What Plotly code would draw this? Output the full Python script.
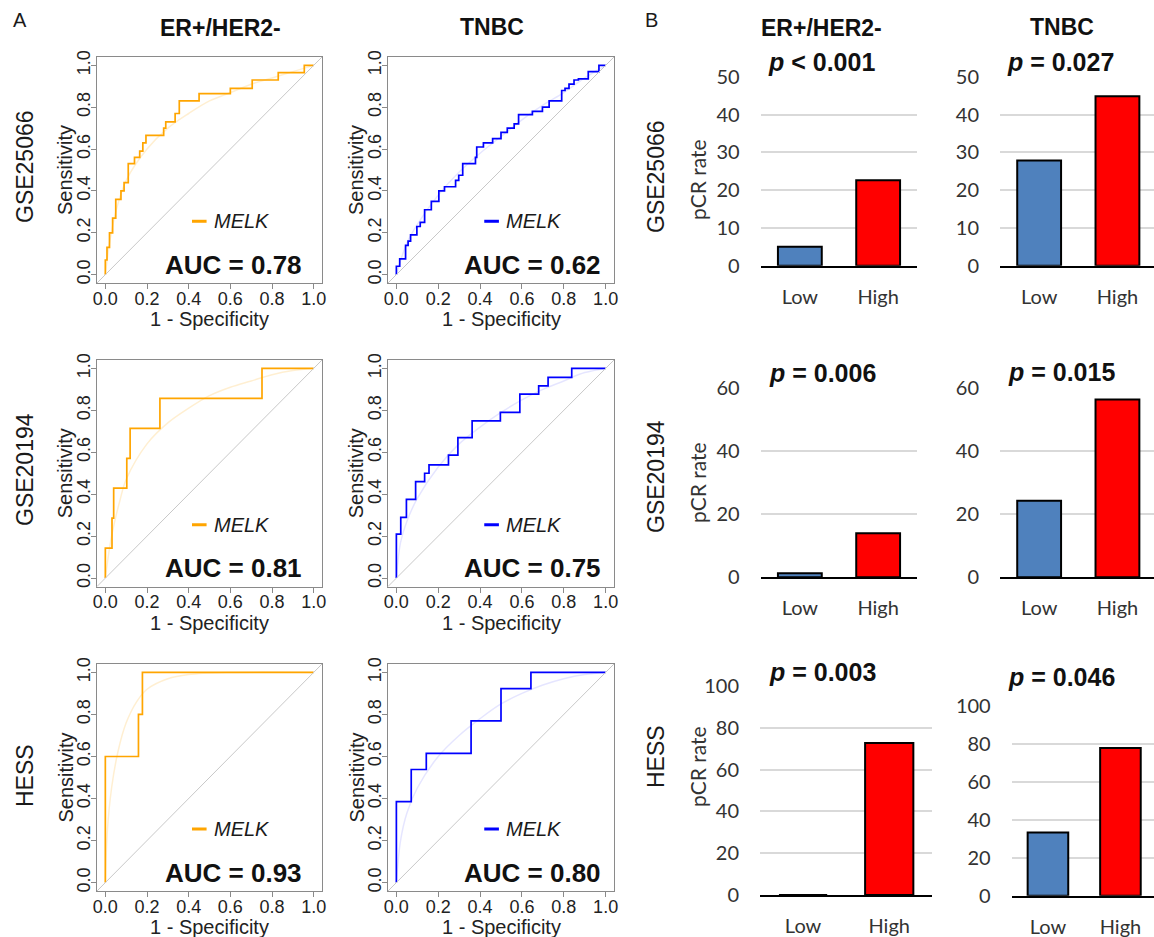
import plotly.graph_objects as go

W, H = 1154, 937

# ---------------- DATA ----------------
# Panel A : ROC curves (1 - specificity, sensitivity) – step vertices (hv)
fpr_gse25066_er = [0, 0, 0.008, 0.02, 0.035, 0.05, 0.075, 0.09, 0.11, 0.14, 0.165, 0.18, 0.195,
                   0.28, 0.29, 0.335, 0.355, 0.45, 0.6, 0.705, 0.83, 0.955, 1.0]
tpr_gse25066_er = [0, 0.07, 0.13, 0.2, 0.27, 0.36, 0.40, 0.44, 0.53, 0.56, 0.59, 0.63, 0.665,
                   0.70, 0.73, 0.77, 0.83, 0.865, 0.89, 0.93, 0.965, 1.0, 1.0]
fpr_gse25066_tnbc = [0, 0, 0.016, 0.044, 0.056, 0.068, 0.098, 0.114, 0.135, 0.167, 0.203, 0.23,
                     0.283, 0.298, 0.317, 0.378, 0.384, 0.416, 0.46, 0.5, 0.53, 0.563, 0.584,
                     0.65, 0.698, 0.73, 0.79, 0.806, 0.825, 0.849, 0.87, 0.917, 0.968, 1.0]
tpr_gse25066_tnbc = [0, 0.04, 0.075, 0.14, 0.16, 0.19, 0.23, 0.25, 0.31, 0.35, 0.40, 0.42,
                     0.45, 0.475, 0.53, 0.56, 0.61, 0.63, 0.65, 0.68, 0.70, 0.72, 0.765,
                     0.78, 0.80, 0.83, 0.88, 0.89, 0.91, 0.93, 0.935, 0.97, 1.0, 1.0]
fpr_gse20194_er = [0, 0, 0.032, 0.04, 0.103, 0.119, 0.262, 0.752, 1.0]
tpr_gse20194_er = [0, 0.143, 0.286, 0.429, 0.571, 0.714, 0.857, 1.0, 1.0]
fpr_gse20194_tnbc = [0, 0, 0.021, 0.048, 0.092, 0.135, 0.156, 0.249, 0.294, 0.362, 0.497,
                     0.59, 0.68, 0.725, 0.838, 1.0]
tpr_gse20194_tnbc = [0, 0.21, 0.29, 0.375, 0.46, 0.50, 0.54, 0.586, 0.67, 0.75, 0.79,
                     0.877, 0.917, 0.957, 1.0, 1.0]
fpr_hess_er = [0, 0, 0.159, 0.178, 1.0]
tpr_hess_er = [0, 0.6, 0.8, 1.0, 1.0]
fpr_hess_tnbc = [0, 0, 0.071, 0.143, 0.357, 0.5, 0.643, 1.0]
tpr_hess_tnbc = [0, 0.385, 0.538, 0.615, 0.769, 0.923, 1.0, 1.0]

# smoothed ROC curves (faint lines)
smx_gse25066_er = [0, 0.02, 0.05, 0.1, 0.2, 0.3, 0.4, 0.5, 0.6, 0.7, 0.8, 0.9, 1.0]
smy_gse25066_er = [0, 0.15, 0.30, 0.45, 0.60, 0.70, 0.77, 0.83, 0.87, 0.91, 0.94, 0.97, 1.0]
smx_gse25066_tnbc = [0, 0.05, 0.1, 0.2, 0.3, 0.4, 0.5, 0.6, 0.7, 0.8, 0.9, 1.0]
smy_gse25066_tnbc = [0, 0.15, 0.24, 0.38, 0.49, 0.58, 0.66, 0.74, 0.81, 0.87, 0.94, 1.0]
smx_gse20194_er = [0, 0.03, 0.07, 0.1, 0.2, 0.3, 0.4, 0.5, 0.6, 0.7, 0.8, 0.9, 1.0]
smy_gse20194_er = [0, 0.20, 0.37, 0.47, 0.64, 0.74, 0.81, 0.87, 0.91, 0.94, 0.97, 0.99, 1.0]
smx_gse20194_tnbc = [0, 0.02, 0.05, 0.1, 0.2, 0.3, 0.4, 0.5, 0.6, 0.7, 0.8, 0.9, 1.0]
smy_gse20194_tnbc = [0, 0.17, 0.27, 0.38, 0.53, 0.64, 0.72, 0.79, 0.85, 0.90, 0.94, 0.98, 1.0]
smx_hess_er = [0, 0.01, 0.03, 0.06, 0.1, 0.15, 0.2, 0.3, 0.4, 0.6, 1.0]
smy_hess_er = [0, 0.25, 0.45, 0.62, 0.76, 0.86, 0.92, 0.97, 0.99, 1.0, 1.0]
smx_hess_tnbc = [0, 0.02, 0.05, 0.1, 0.2, 0.3, 0.4, 0.5, 0.6, 0.7, 0.8, 0.9, 1.0]
smy_hess_tnbc = [0, 0.20, 0.33, 0.45, 0.60, 0.70, 0.78, 0.85, 0.90, 0.94, 0.97, 0.99, 1.0]

auc_labels = ["AUC = 0.78", "AUC = 0.62", "AUC = 0.81", "AUC = 0.75", "AUC = 0.93", "AUC = 0.80"]
roc_ticks = [0, 0.2, 0.4, 0.6, 0.8, 1.0]
roc_tick_text = ["0.0", "0.2", "0.4", "0.6", "0.8", "1.0"]

# Panel B : pCR rate (%)
groups = ["Low", "High"]
pcr_gse25066_er = [5.0, 22.6]
pcr_gse25066_tnbc = [27.8, 44.8]
pcr_gse20194_er = [1.3, 14.0]
pcr_gse20194_tnbc = [24.2, 56.3]
pcr_hess_er = [0.0, 72.7]
pcr_hess_tnbc = [33.3, 77.8]
p_labels = ["<i>p</i> &lt; 0.001", "<i>p</i> = 0.027", "<i>p</i> = 0.006",
            "<i>p</i> = 0.015", "<i>p</i> = 0.003", "<i>p</i> = 0.046"]
bar_yranges = [[0, 50], [0, 60], [0, 100]]
bar_dticks = [10, 20, 20]

col_titles = ["ER+/HER2-", "TNBC"]
row_labels = ["GSE25066", "GSE20194", "HESS"]

# ---------------- STYLE / LAYOUT ----------------
ARIAL = "Liberation Sans, Arial, sans-serif"
CALIBRI = "Lato, Open Sans, sans-serif"
BLUE_BAR = "#4F81BD"
RED_BAR = "#FF0000"
ORANGE = "#FFA500"
BLUE = "#0000FF"
ROC_FAINT = ["rgba(255,165,0,0.18)", "rgba(0,0,255,0.10)"]


def fx(p):
    return p / W


def fy(p):
    return 1 - p / H


def note(text, x, y, size, family=ARIAL, color="#1a1a1a", angle=0, xref="paper", yref="paper",
         xanchor="center", yanchor="middle"):
    return dict(text=text, x=x, y=y, xref=xref, yref=yref, showarrow=False, textangle=angle,
                xanchor=xanchor, yanchor=yanchor,
                font=dict(size=size, family=family, color=color))


# ROC box pixel positions
roc_x = [(97, 322), (388, 614)]
roc_y = [(57, 283), (360, 586.5), (664, 891)]
# bar plot pixel positions (left, right) per row/col, (top(max), bottom(0)) per row/col
bar_x = [[(760.7, 917.3), (1000, 1154)],
         [(760.7, 917.3), (1000, 1154)],
         [(760, 932.3), (1011.7, 1154)]]
bar_y = [[(76.7, 265.7), (76.7, 265.7)],
         [(388.3, 577.3), (387.7, 577.3)],
         [(686, 895), (706, 895.7)]]
bar_xrange = [[[-0.5, 1.5], [-0.5, 1.467]],
              [[-0.5, 1.5], [-0.5, 1.467]],
              [[-0.5, 1.5], [-0.5, 1.463]]]

roc_data = [
    (fpr_gse25066_er, tpr_gse25066_er, smx_gse25066_er, smy_gse25066_er),
    (fpr_gse25066_tnbc, tpr_gse25066_tnbc, smx_gse25066_tnbc, smy_gse25066_tnbc),
    (fpr_gse20194_er, tpr_gse20194_er, smx_gse20194_er, smy_gse20194_er),
    (fpr_gse20194_tnbc, tpr_gse20194_tnbc, smx_gse20194_tnbc, smy_gse20194_tnbc),
    (fpr_hess_er, tpr_hess_er, smx_hess_er, smy_hess_er),
    (fpr_hess_tnbc, tpr_hess_tnbc, smx_hess_tnbc, smy_hess_tnbc),
]
bar_data = [pcr_gse25066_er, pcr_gse25066_tnbc, pcr_gse20194_er,
            pcr_gse20194_tnbc, pcr_hess_er, pcr_hess_tnbc]

fig = go.Figure()
layout = dict(
    width=W, height=H, margin=dict(l=0, r=0, t=0, b=0, pad=0), autosize=False,
    paper_bgcolor="white", plot_bgcolor="white", showlegend=False,
    font=dict(family=ARIAL, color="#1a1a1a"),
)
annotations = []
shapes = []

# ---- ROC panels ----
for r in range(3):
    for c in range(2):
        k = r * 2 + c + 1
        ax = "" if k == 1 else str(k)
        xa, ya = "x" + ax, "y" + ax
        fpr, tpr, smx, smy = roc_data[k - 1]
        color = ORANGE if c == 0 else BLUE
        x0, x1 = roc_x[c]
        y0, y1 = roc_y[r]
        common = dict(range=[-0.04, 1.04], tickvals=roc_ticks, ticktext=roc_tick_text,
                      showgrid=False, zeroline=False, showline=True, mirror=True,
                      linecolor="#8a8a8a", linewidth=1.3, ticks="outside", ticklen=5,
                      tickcolor="#8a8a8a", automargin=False,
                      tickfont=dict(size=18, color="#222", family=ARIAL))
        layout["xaxis" + ax] = dict(domain=[fx(x0), fx(x1)], anchor=ya,
                                    ticklabelstandoff=-6, **common)
        layout["yaxis" + ax] = dict(domain=[fy(y1), fy(y0)], anchor=xa, tickangle=-90,
                                    ticklabelstandoff=-6, **common)
        # diagonal reference line
        shapes.append(dict(type="line", xref=xa + " domain", yref=ya + " domain",
                           x0=0, y0=0, x1=1, y1=1, line=dict(color="#c8c8c8", width=1)))
        # smoothed curve
        fig.add_trace(go.Scatter(x=smx, y=smy, mode="lines", xaxis=xa, yaxis=ya,
                                 line=dict(color=ROC_FAINT[c], width=1.5, shape="spline"),
                                 hoverinfo="skip"))
        # step curve
        fig.add_trace(go.Scatter(x=fpr, y=tpr, mode="lines", xaxis=xa, yaxis=ya,
                                 line=dict(color=color, width=1.7, shape="hv")))
        # legend key
        lx = [0.416, 0.486] if c == 0 else [0.42, 0.49]
        shapes.append(dict(type="line", xref=xa, yref=ya, x0=lx[0], x1=lx[1], y0=0.255, y1=0.255,
                           line=dict(color=color, width=3)))
        annotations.append(note("<i>MELK</i>", lx[1] + 0.025, 0.255, 20, xref=xa, yref=ya,
                                xanchor="left"))
        # AUC text
        annotations.append(note("<b>" + auc_labels[k - 1] + "</b>", 0.952 if c == 0 else 0.986,
                                0.048, 26, color="#111", xref=xa, yref=ya, xanchor="right"))
        # axis titles
        annotations.append(note("1 - Specificity", fx((x0 + x1) / 2), fy(y1 + 36), 20,
                                color="#222"))
        annotations.append(note("Sensitivity", fx(x0 - 32), fy((y0 + y1) / 2), 20,
                                color="#222", angle=-90))

# ---- Bar panels ----
for r in range(3):
    for c in range(2):
        k = 6 + r * 2 + c + 1
        ax = str(k)
        xa, ya = "x" + ax, "y" + ax
        x0, x1 = bar_x[r][c]
        yt, yb = bar_y[r][c]
        layout["xaxis" + ax] = dict(
            domain=[fx(x0), min(1.0, fx(x1))], anchor=ya, type="category",
            range=bar_xrange[r][c], showgrid=False, zeroline=False, showline=True,
            linecolor="black", linewidth=2, ticks="", ticklabelstandoff=12, automargin=False,
            tickfont=dict(size=20, color="#333", family=CALIBRI))
        layout["yaxis" + ax] = dict(
            domain=[fy(yb), fy(yt)], anchor=xa, range=bar_yranges[r], dtick=bar_dticks[r],
            showgrid=True, gridcolor="#d9d9d9", gridwidth=1.5, zeroline=False,
            showline=False, ticks="", ticklabelstandoff=20, automargin=False,
            tickfont=dict(size=20, color="#333", family=CALIBRI))
        fig.add_trace(go.Bar(x=groups, y=bar_data[k - 7], xaxis=xa, yaxis=ya, width=0.56,
                             marker=dict(color=[BLUE_BAR, RED_BAR],
                                         line=dict(color="black", width=2))))

# p-values
p_pos = [(821, 62), (1060, 62), (822.5, 373), (1061.7, 372), (822, 672), (1061, 677)]
for lab, (px, py) in zip(p_labels, p_pos):
    annotations.append(note("<b>" + lab + "</b>", fx(px), fy(py), 25, color="#111"))

# column titles
for t, px, py in [(col_titles[0], 220, 28), (col_titles[1], 492, 27),
                  (col_titles[0], 821, 28), (col_titles[1], 1061.5, 27)]:
    annotations.append(note("<b>" + t + "</b>", fx(px), fy(py), 23, color="#111"))

# row labels
for lab, yA, yB, yP in zip(row_labels, [167, 470, 776], [177, 477, 757], [180, 483, 767]):
    annotations.append(note(lab, fx(25), fy(yA), 23, angle=-90))
    annotations.append(note(lab, fx(656), fy(yB), 23, angle=-90))
    annotations.append(note("pCR rate", fx(697), fy(yP), 21, family=CALIBRI, color="#333",
                            angle=-90))

# panel letters
for t, px in [("A", 19.5), ("B", 651)]:
    annotations.append(note(t, fx(px), fy(20), 20))

layout["annotations"] = annotations
layout["shapes"] = shapes
fig.update_layout(**layout)
fig.write_html("out.html", config={"displayModeBar": False},
               post_script="document.body.style.margin='0';document.body.style.padding='0';")
